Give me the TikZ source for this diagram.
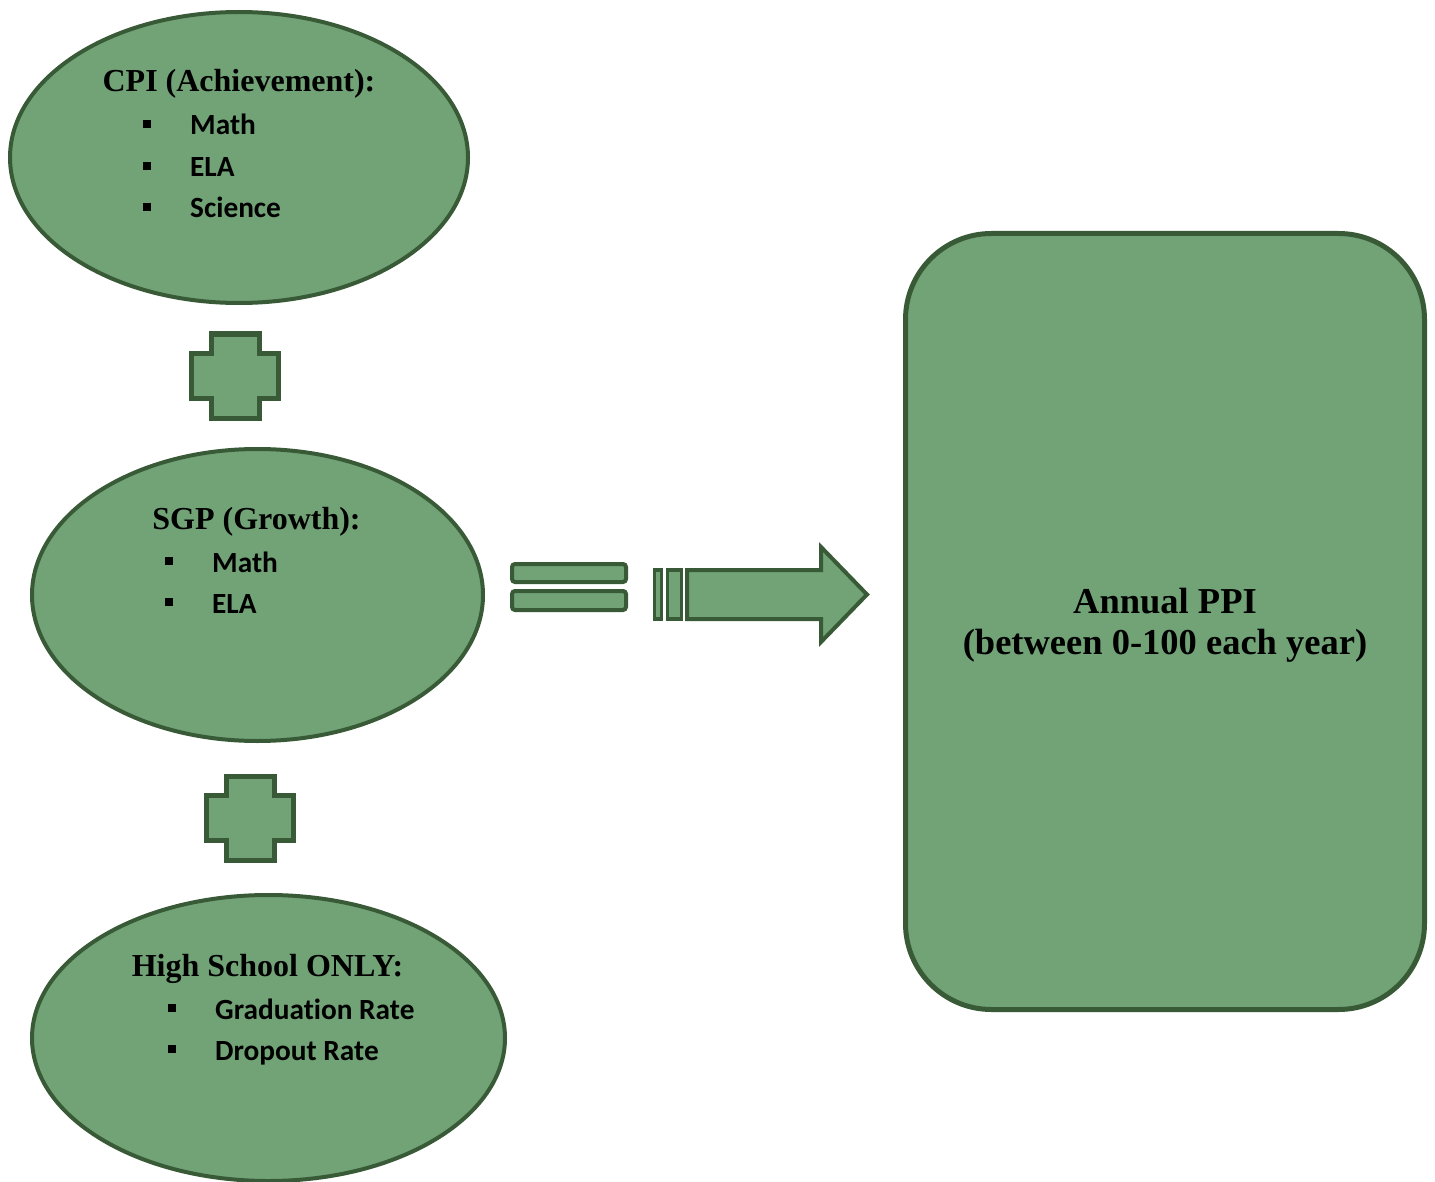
\documentclass[tikz,border=0pt]{standalone}
\usepackage{fontspec}
\setmainfont{Liberation Serif}
\newfontfamily\bulletfont[Ligatures=NoCommon]{Carlito}
\usetikzlibrary{shapes.geometric}
\definecolor{gfill}{RGB}{113,163,119}
\definecolor{gline}{RGB}{57,90,54}
\tikzset{
  blob/.style={ellipse, draw=gline, fill=gfill, line width=4pt, inner sep=0pt},
  bigbox/.style={rectangle, rounded corners=86pt, draw=gline, fill=gfill, line width=5pt, inner sep=0pt},
  symb/.style={draw=gline, fill=gfill, line width=4.5pt, line join=miter},
  head/.style={anchor=base, inner sep=0pt, font=\fontsize{32pt}{36pt}\selectfont\bfseries},
  item/.style={anchor=base west, inner sep=0pt, font=\fontsize{29.3pt}{34pt}\bulletfont\bfseries},
  ppi/.style={anchor=base, inner sep=0pt, font=\fontsize{36.5pt}{41pt}\selectfont\bfseries}
}
\newcommand{\sqb}{\rule[7pt]{8pt}{8pt}\hspace*{39pt}}
\begin{document}
\begin{tikzpicture}[x=1pt,y=-1pt]
\useasboundingbox (0,0) rectangle (1435,1182);
% ellipses
\node[blob, minimum width=458pt, minimum height=291pt] (cpi) at (239,157.5) {};
\node[blob, minimum width=451pt, minimum height=292pt] (sgp) at (257.5,595) {};
\node[blob, minimum width=473pt, minimum height=286pt] (hs) at (268.5,1038) {};
% big box
\node[bigbox, minimum width=519pt, minimum height=776pt] (ppibox) at (1165,621.5) {};
% texts
\node[head] (cpih) at (239,92) {CPI (Achievement):};
\node[item] (cpi1) at (143,135) {\sqb Math};
\node[item] (cpi2) at (143,177) {\sqb ELA};
\node[item] (cpi3) at (143,218) {\sqb Science};
\node[head] (sgph) at (256.5,529) {SGP (Growth):};
\node[item] (sgp1) at (165,572) {\sqb Math};
\node[item] (sgp2) at (165,613) {\sqb ELA};
\node[head] (hsh) at (267.5,976) {High School ONLY:};
\node[item] (hs1) at (168,1019) {\sqb Graduation Rate};
\node[item] (hs2) at (168,1060) {\sqb Dropout Rate};
\node[ppi] (ppit1) at (1165,613) {Annual PPI};
\node[ppi] (ppit2) at (1165,654) {(between 0-100 each year)};
% plus signs
\draw[symb, line width=5pt] (211,334) -- (259,334) -- (259,353) -- (278,353) -- (278,398) -- (259,398) -- (259,418) -- (211,418) -- (211,398) -- (191,398) -- (191,353) -- (211,353) -- cycle;
\draw[symb, line width=5pt] (226,776) -- (274,776) -- (274,795) -- (293,795) -- (293,840) -- (274,840) -- (274,860) -- (226,860) -- (226,840) -- (206,840) -- (206,795) -- (226,795) -- cycle;
% equals
\draw[symb, line width=4pt, rounded corners=3pt] (512,564) rectangle (626,582);
\draw[symb, line width=4pt, rounded corners=3pt] (512,591) rectangle (626,610);
% striped arrow
\draw[symb, line width=3.5pt] (654.5,570) rectangle (661.5,619);
\draw[symb, line width=3.5pt] (667.5,570) rectangle (681.5,619);
\draw[symb, line width=4pt] (687,570) -- (821,570) -- (821,547) -- (867,594.5) -- (821,642) -- (821,619) -- (687,619) -- cycle;
\end{tikzpicture}
\end{document}
